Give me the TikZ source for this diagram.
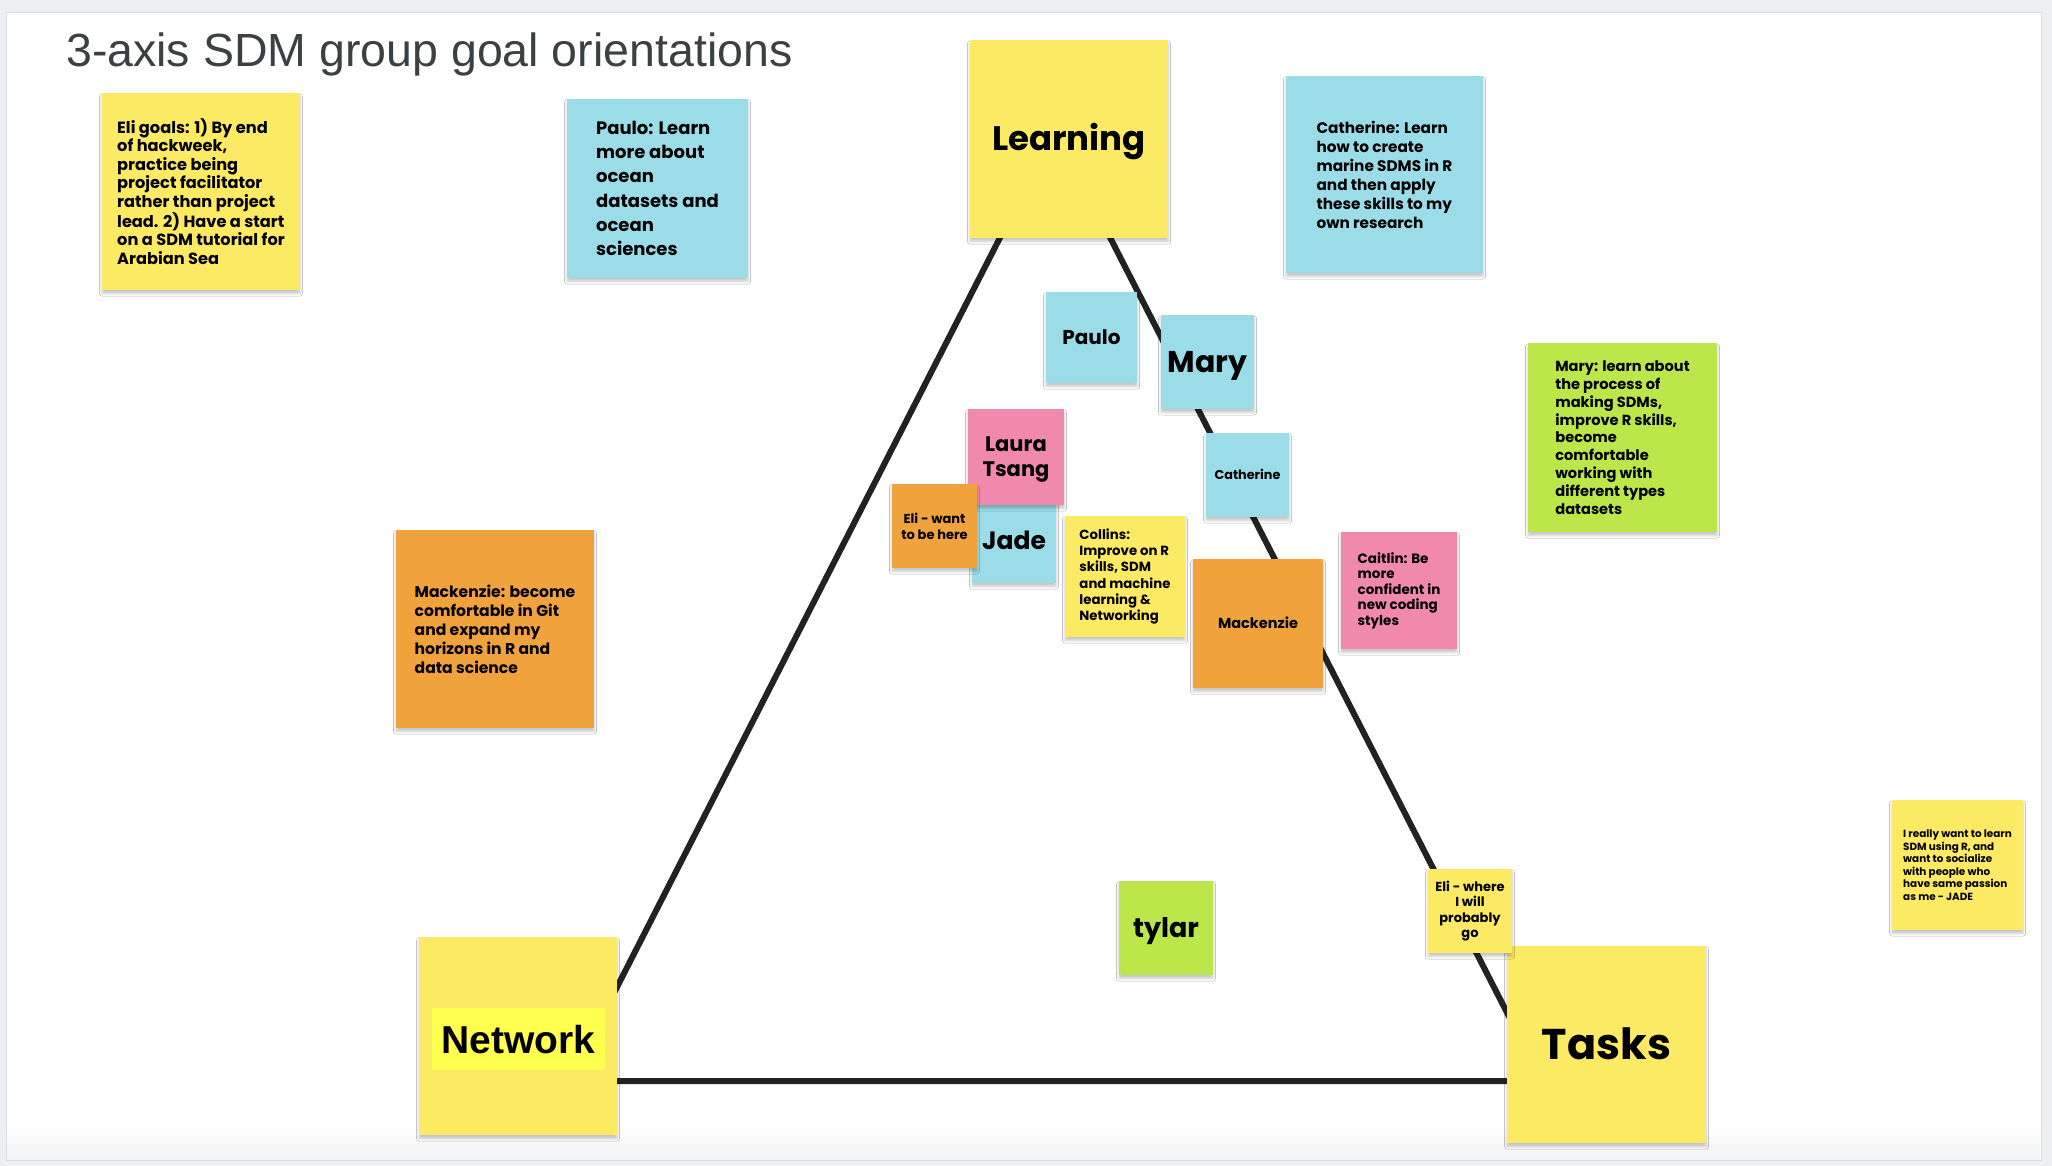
\documentclass[tikz,border=0pt]{standalone}
\usepackage{fontspec}
\usepackage{xcolor}
\setmainfont{Poppins}
\newfontfamily\titlefont{Liberation Sans}
\newfontfamily\arialfont{Liberation Sans}
\usetikzlibrary{shadows.blur}

\definecolor{pagegray}{HTML}{EEEFF1}
\definecolor{boardedge}{HTML}{DCDDE0}
\definecolor{titlegray}{HTML}{3C4043}
\definecolor{linegray}{HTML}{222222}
\definecolor{stickyyellow}{HTML}{FCEA64}
\definecolor{stickyblue}{HTML}{9ADCE8}
\definecolor{stickyorange}{HTML}{F0A23C}
\definecolor{stickypink}{HTML}{F089AB}
\definecolor{stickygreen}{HTML}{BCE64A}
\definecolor{hiyellow}{HTML}{FFFF50}

\begin{document}
\begin{tikzpicture}[x=1pt, y=-1pt,
  sticky/.style={fill=#1, inner sep=0pt, align=left, text=black,
    blur shadow={shadow xshift=0pt, shadow yshift=-3.5pt, shadow blur radius=2.5pt, shadow opacity=22}},
  oneword/.style={text height=#1, text depth=0pt}]
  \useasboundingbox (0,0) rectangle (2052,1166);

  % Board
  \fill[pagegray] (0,0) rectangle (2052,1166);
  \draw[fill=white, draw=boardedge, line width=1pt] (6,13) rectangle (2041,1160);
  \shade[top color=white, bottom color=pagegray!70] (7,1125) rectangle (2040,1159);

  % Title
  \node[anchor=base west, inner sep=0pt, text=titlegray, font=\titlefont\fontsize{46.5}{55}\selectfont] (title) at (66,67) {3-axis SDM group goal orientations};

  % Triangle
  \coordinate (apex) at (1055,130);
  \coordinate (netcorner) at (569,1081);
  \coordinate (taskcorner) at (1542,1081);
  \draw[draw=linegray, line width=6pt] (apex) -- (netcorner) -- (taskcorner) -- cycle;

  % Axis labels
  \node[sticky=stickyyellow, minimum width=198, minimum height=198, oneword=24pt, font=\fontsize{34}{40}\selectfont\bfseries] (learning) at (1069,139) {Learning};
  \node[sticky=stickyyellow, minimum width=199, minimum height=197, oneword=30pt, font=\fontsize{43}{50}\selectfont\bfseries] (tasks) at (1606.5,1044.5) {Tasks};
  \node[sticky=stickyyellow, minimum width=198, minimum height=198] (network) at (518,1036) {};
  \node[fill=hiyellow, inner sep=0pt, minimum width=173, minimum height=62, oneword=28pt, font=\arialfont\fontsize{39}{45}\selectfont\bfseries] (networklabel) at (518.5,1039) {Network};

  % Goals
  \node[sticky=stickyyellow, minimum width=198, minimum height=197, font=\fontsize{16.2}{18.4}\selectfont\bfseries] (eligoals) at (201,191.5)
    {Eli goals: 1) By end\\of hackweek,\\practice being\\project facilitator\\rather than project\\lead. 2) Have a start\\on a SDM tutorial for\\Arabian Sea};
  \node[sticky=stickyblue, minimum width=181, minimum height=179, font=\fontsize{18}{24.2}\selectfont\bfseries] (paulogoal) at (657.5,188.5)
    {Paulo: Learn\\more about\\ocean\\datasets and\\ocean\\sciences};
  \node[sticky=stickyblue, minimum width=197, minimum height=197, font=\fontsize{15.3}{19}\selectfont\bfseries] (cathgoal) at (1384.5,174.5)
    {Catherine: Learn\\how to create\\marine SDMS in R\\and then apply\\these skills to my\\own research};
  \node[sticky=stickygreen, minimum width=189, minimum height=189, font=\fontsize{14.6}{17.8}\selectfont\bfseries] (marygoal) at (1622.5,437.5)
    {Mary: learn about\\the process of\\making SDMs,\\improve R skills,\\become\\comfortable\\working with\\different types\\datasets};
  \node[sticky=stickyorange, minimum width=198, minimum height=198, font=\fontsize{15.6}{19}\selectfont\bfseries] (mackgoal) at (495,629)
    {Mackenzie: become\\comfortable in Git\\and expand my\\horizons in R and\\data science};
  \node[sticky=stickyyellow, minimum width=131, minimum height=130, font=\fontsize{10.4}{12.5}\selectfont\bfseries] (jadegoal) at (1957.5,865)
    {I really want to learn\\SDM using R, and\\want to socialize\\with people who\\have same passion\\as me - JADE};

  % Names in the triangle
  \node[sticky=stickyblue, minimum width=91, minimum height=91, oneword=14pt, font=\fontsize{20}{24}\selectfont\bfseries] (paulo) at (1091.5,337.5) {Paulo};
  \node[sticky=stickyblue, minimum width=93, minimum height=94, oneword=21pt, font=\fontsize{30}{36}\selectfont\bfseries] (mary) at (1207.5,362) {Mary};
  \node[sticky=stickyblue, minimum width=84, minimum height=84, oneword=17.5pt, font=\fontsize{25}{30}\selectfont\bfseries] (jade) at (1014,541) {Jade};
  \node[sticky=stickypink, minimum width=96, minimum height=96, align=center, text depth=0pt, font=\fontsize{21}{25}\selectfont\bfseries] (laura) at (1016,457) {Laura\\Tsang};
  \node[sticky=stickyorange, minimum width=85, minimum height=84, align=center, font=\fontsize{13}{16}\selectfont\bfseries] (eliwant) at (934.5,526) {Eli - want\\to be here};
  \node[sticky=stickyyellow, minimum width=120, minimum height=121, font=\fontsize{13.3}{16.1}\selectfont\bfseries] (collins) at (1125,576.5)
    {Collins:\\Improve on R\\skills, SDM\\and machine\\learning \&\\Networking};
  \node[sticky=stickyblue, minimum width=83, minimum height=84, oneword=9pt, font=\fontsize{12.8}{15}\selectfont\bfseries] (cathsmall) at (1247.5,475) {Catherine};
  \node[sticky=stickyorange, minimum width=130, minimum height=129, oneword=10pt, font=\fontsize{14.5}{17}\selectfont\bfseries] (macksmall) at (1258,623.5) {Mackenzie};
  \node[sticky=stickypink, minimum width=116, minimum height=117, font=\fontsize{13.5}{15.5}\selectfont\bfseries] (caitlin) at (1399,590.5)
    {Caitlin: Be\\more\\confident in\\new coding\\styles};
  \node[sticky=stickyyellow, minimum width=84, minimum height=84, align=center, font=\fontsize{13}{15.5}\selectfont\bfseries] (eliwhere) at (1470,911) {Eli - where\\I will\\probably\\go};
  \node[sticky=stickygreen, minimum width=94, minimum height=94, oneword=19pt, font=\fontsize{27}{32}\selectfont\bfseries] (tylar) at (1166,928) {tylar};

\end{tikzpicture}
\end{document}
